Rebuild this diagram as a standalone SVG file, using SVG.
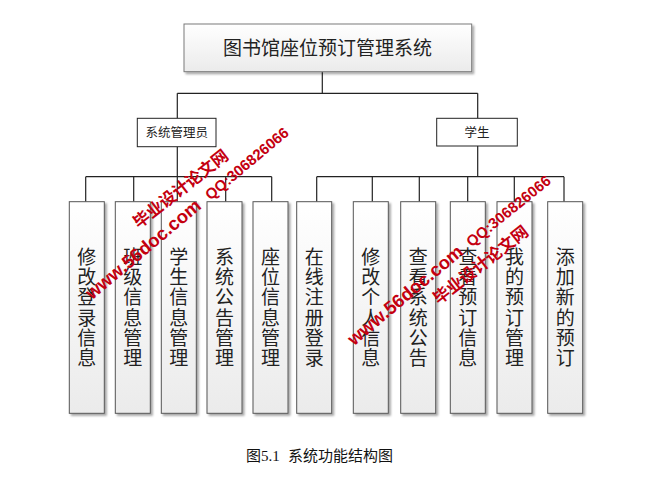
<svg xmlns="http://www.w3.org/2000/svg" width="662" height="482" viewBox="0 0 662 482">
<style>
.cjk{font-family:"Noto Sans CJK SC","Liberation Sans",sans-serif;fill:#222}
.leaf rect.b{fill:url(#g);stroke:#555;stroke-width:1;filter:url(#sh)}
.mid{fill:#fff;stroke:#222;stroke-width:1}
.lt{font-size:19px;text-anchor:middle;writing-mode:vertical-rl;letter-spacing:1.3px}
.conn line{stroke:#222;stroke-width:1.2}
.wm{font-family:"Liberation Sans",sans-serif;font-weight:bold;fill:#c40010;text-anchor:middle;dominant-baseline:central}
.wmc{font-family:"Noto Sans CJK SC","Liberation Sans",sans-serif;font-weight:bold;fill:#c40010;text-anchor:middle;dominant-baseline:central}
</style>
<defs>
<linearGradient id="g" x1="0" y1="0" x2="0" y2="1">
<stop offset="0" stop-color="#ffffff"/>
<stop offset="1" stop-color="#ebebeb"/>
</linearGradient>
<filter id="sh" x="-20%" y="-20%" width="140%" height="140%">
<feDropShadow dx="2" dy="2" stdDeviation="0.8" flood-color="#000" flood-opacity="0.35"/>
</filter>
</defs>
<rect width="662" height="482" fill="#fff"/>

<g id="connectors" class="conn">
<line x1="322.3" y1="71.7" x2="322.3" y2="93.3"/>
<line x1="177.3" y1="93.3" x2="477.7" y2="93.3"/>
<line x1="177.3" y1="93.3" x2="177.3" y2="118.3"/>
<line x1="477.7" y1="93.3" x2="477.7" y2="118.3"/>
<line x1="177.3" y1="146.7" x2="177.3" y2="201.7"/>
<line x1="85.7" y1="176.7" x2="271.7" y2="176.7"/>
<line x1="85.7" y1="176.7" x2="85.7" y2="201.7"/>
<line x1="133.7" y1="176.7" x2="133.7" y2="201.7"/>
<line x1="225.7" y1="176.7" x2="225.7" y2="201.7"/>
<line x1="271.7" y1="176.7" x2="271.7" y2="201.7"/>
<line x1="477.7" y1="146" x2="477.7" y2="176.7"/>
<line x1="316.7" y1="176.7" x2="564" y2="176.7"/>
<line x1="316.7" y1="176.7" x2="316.7" y2="201.7"/>
<line x1="372.3" y1="176.7" x2="372.3" y2="201.7"/>
<line x1="419.3" y1="176.7" x2="419.3" y2="201.7"/>
<line x1="467.7" y1="176.7" x2="467.7" y2="201.7"/>
<line x1="514.3" y1="176.7" x2="514.3" y2="201.7"/>
<line x1="564" y1="176.7" x2="564" y2="201.7"/>
</g>

<g id="root" class="leaf">
<rect class="b" x="184" y="24" width="287.7" height="47.7" style="stroke:#7a7a7a"/>
<text class="cjk" x="327.5" y="55" font-size="19" text-anchor="middle">图书馆座位预订管理系统</text>
</g>

<g id="admin">
<rect class="mid" x="137.3" y="118.3" width="78.7" height="28.4"/>
<text class="cjk" x="176.7" y="137" font-size="12.5" text-anchor="middle">系统管理员</text>
</g>
<g id="student">
<rect class="mid" x="436.7" y="118.3" width="80.6" height="27.7"/>
<text class="cjk" x="477" y="137" font-size="12.5" text-anchor="middle">学生</text>
</g>

<g id="n1" class="leaf"><rect class="b" x="69.3" y="201.7" width="35" height="211.6"/><text class="cjk lt" x="86.8" y="308">修改登录信息</text></g>
<g id="n2" class="leaf"><rect class="b" x="115.3" y="201.7" width="35" height="211.6"/><text class="cjk lt" x="132.8" y="308">班级信息管理</text></g>
<g id="n3" class="leaf"><rect class="b" x="161.3" y="201.7" width="35" height="211.6"/><text class="cjk lt" x="178.8" y="308">学生信息管理</text></g>
<g id="n4" class="leaf"><rect class="b" x="207" y="201.7" width="35" height="211.6"/><text class="cjk lt" x="224.5" y="308">系统公告管理</text></g>
<g id="n5" class="leaf"><rect class="b" x="253" y="201.7" width="35" height="211.6"/><text class="cjk lt" x="270.5" y="308">座位信息管理</text></g>
<g id="n6" class="leaf"><rect class="b" x="296.7" y="201.7" width="35" height="211.6"/><text class="cjk lt" x="314.2" y="308">在线注册登录</text></g>
<g id="n7" class="leaf"><rect class="b" x="353.3" y="201.7" width="35" height="211.6"/><text class="cjk lt" x="370.8" y="308">修改个人信息</text></g>
<g id="n8" class="leaf"><rect class="b" x="400.7" y="201.7" width="35" height="211.6"/><text class="cjk lt" x="418.2" y="308">查看系统公告</text></g>
<g id="n9" class="leaf"><rect class="b" x="450.3" y="201.7" width="35" height="211.6"/><text class="cjk lt" x="467.8" y="308">查看预订信息</text></g>
<g id="n10" class="leaf"><rect class="b" x="497" y="201.7" width="35" height="211.6"/><text class="cjk lt" x="514.5" y="308">我的预订管理</text></g>
<g id="n11" class="leaf"><rect class="b" x="547.7" y="201.7" width="35" height="211.6"/><text class="cjk lt" x="565.2" y="308">添加新的预订</text></g>

<g id="caption">
<text x="246" y="460.5" font-size="15" style="font-family:'Liberation Serif','Noto Sans CJK SC',serif;fill:#111">图5.1<tspan x="288">系统功能结构图</tspan></text>
</g>

<g id="watermark">
<text class="wmc" font-size="16.5" transform="rotate(-38 180 188)" x="180" y="188">毕业设计论文网</text>
<text class="wm" font-size="18.5" transform="rotate(-40 143 249)" x="143" y="249">www.56doc.com</text>
<text class="wm" font-size="15" transform="rotate(-40 246.7 163.3)" x="246.7" y="163.3">QQ:306826066</text>
<text class="wm" font-size="18.5" transform="rotate(-40 405 295)" x="405" y="295">www.56doc.com</text>
<text class="wmc" font-size="16.5" transform="rotate(-38 480 264)" x="480" y="264">毕业设计论文网</text>
<text class="wm" font-size="15" transform="rotate(-39 508.3 210.8)" x="508.3" y="210.8">QQ:306826066</text>
</g>
</svg>
